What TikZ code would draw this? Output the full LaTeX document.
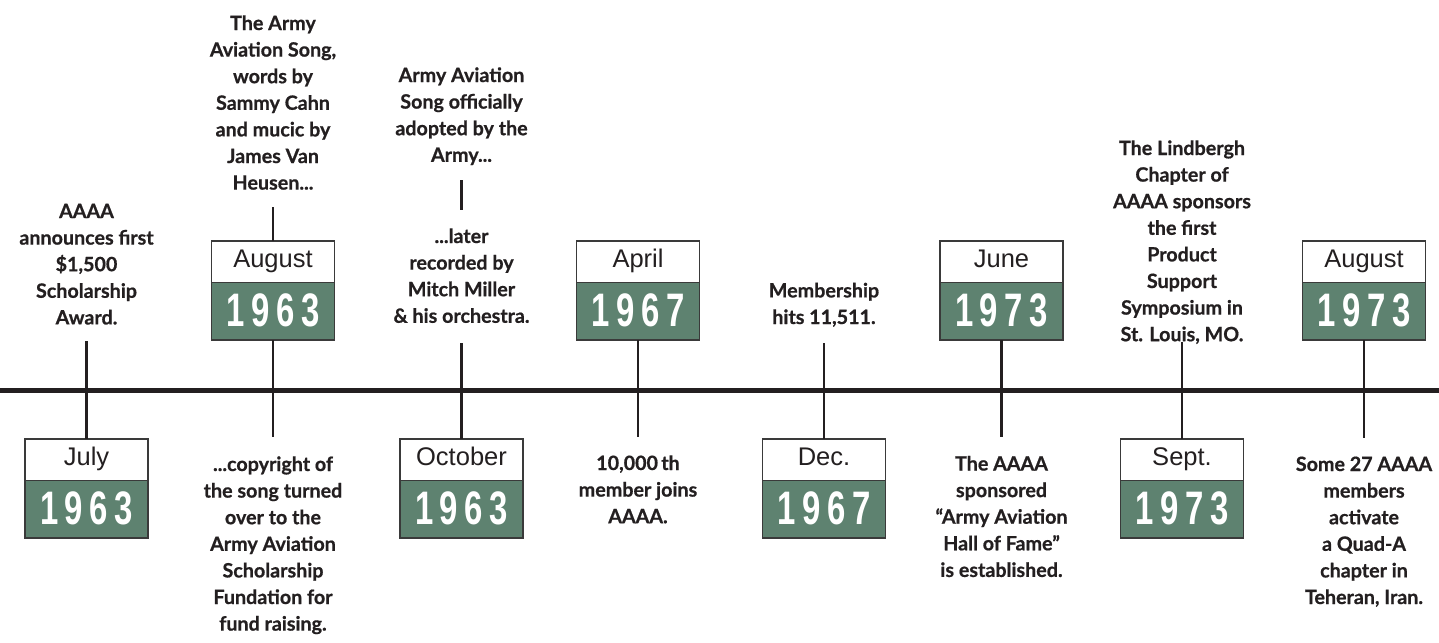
\documentclass[tikz,border=0pt]{standalone}
\usepackage{fontspec}
\setmainfont{Lato}[BoldFeatures={FakeBold=0.7}]
\newfontfamily\monthfont{Liberation Sans}
\newfontfamily\yearfont[FakeStretch=0.7,LetterSpace=14]{Liberation Sans}
\usetikzlibrary{positioning}
\definecolor{ink}{RGB}{35,31,32}
\definecolor{boxgreen}{RGB}{94,130,112}
\definecolor{boxline}{RGB}{58,58,58}
\begin{document}
\begin{tikzpicture}[x=1pt,y=-1pt,
  month/.style={draw=boxline,line width=1.3pt,fill=white,outer sep=0pt,inner sep=0pt,
    minimum width=123pt,minimum height=41.5pt,text=ink,text height=18pt,text depth=6pt,
    font=\monthfont\fontsize{25.5}{25.5}\selectfont},
  year/.style={draw=boxline,line width=1.3pt,fill=boxgreen,outer sep=0pt,inner sep=0pt,
    minimum width=123pt,minimum height=57.5pt,text=white,text height=33pt,text depth=3pt,
    font=\yearfont\bfseries\fontsize{47}{47}\selectfont},
  event/.style={align=center,inner sep=0pt,anchor=base,text=ink,
    font=\bfseries\fontsize{19.7}{26.6}\selectfont},
  conn/.style={draw=ink,line width=2.4pt}]
\useasboundingbox (0,0) rectangle (1439,642);

\coordinate (axisl) at (0,390);
\coordinate (axisr) at (1439,390);
\coordinate (p1) at (86.5,341);
\coordinate (p2a) at (273,207);
\coordinate (p2b) at (273,437);
\coordinate (p3a) at (461.5,180);
\coordinate (p3b) at (461.5,210);
\coordinate (p3) at (461.5,343);
\coordinate (p4) at (638,437);
\coordinate (p5) at (824,343);
\coordinate (p6) at (1001.5,437);
\coordinate (p7) at (1182,342);
\coordinate (p8) at (1364,438);

\draw[ink,line width=5pt] (axisl) -- (axisr);

\node[month] (m1) at (86.5,459.75) {July};
\node[year,below=0pt of m1] (y1) {1963};
\node[month] (m2) at (273,261.75) {August};
\node[year,below=0pt of m2] (y2) {1963};
\node[month] (m3) at (461.5,459.75) {October};
\node[year,below=0pt of m3] (y3) {1963};
\node[month] (m4) at (638,261.75) {April};
\node[year,below=0pt of m4] (y4) {1967};
\node[month] (m5) at (824,459.75) {Dec.};
\node[year,below=0pt of m5] (y5) {1967};
\node[month] (m6) at (1001.5,261.75) {June};
\node[year,below=0pt of m6] (y6) {1973};
\node[month] (m7) at (1182,459.75) {Sept.};
\node[year,below=0pt of m7] (y7) {1973};
\node[month] (m8) at (1364,261.75) {August};
\node[year,below=0pt of m8] (y8) {1973};

\node[event] (e1) at (86.5,324.4) {AAAA\\announces first\\\$1,500\\Scholarship\\Award.};
\node[event] (e2) at (273,189.6) {The Army\\Aviation Song,\\words by\\Sammy Cahn\\and mucic by\\James Van\\Heusen...};
\node[event] (e3) at (273,630.6) {...copyright of\\the song turned\\over to the\\Army Aviation\\Scholarship\\Fundation for\\fund raising.};
\node[event] (e4) at (461.5,161.8) {Army Aviation\\Song officially\\adopted by the\\Army...};
\node[event] (e5) at (461.5,322.8) {...later\\recorded by\\Mitch Miller\\\& his orchestra.};
\node[event] (e6) at (638,523.2) {10,000\,th\\member joins\\AAAA.};
\node[event] (e7) at (824,324) {Membership\\hits 11,511.};
\node[event] (e8) at (1001.5,576.9) {The AAAA\\sponsored\\“Army Aviation\\Hall of Fame”\\is established.};
\node[event] (e9) at (1182,341.2) {The Lindbergh\\Chapter of\\AAAA sponsors\\the first\\Product\\Support\\Symposium in\\St. Louis, MO.};
\node[event] (e10) at (1364,604) {Some 27 AAAA\\members\\activate\\a Quad-A\\chapter in\\Teheran, Iran.};

\draw[conn] (p1) -- (m1.north);
\draw[conn] (p2a) -- (m2.north);
\draw[conn] (y2.south) -- (p2b);
\draw[conn] (p3a) -- (p3b);
\draw[conn] (p3) -- (m3.north);
\draw[conn] (y4.south) -- (p4);
\draw[conn] (p5) -- (m5.north);
\draw[conn] (y6.south) -- (p6);
\draw[conn] (p7) -- (m7.north);
\draw[conn] (y8.south) -- (p8);
\end{tikzpicture}
\end{document}
